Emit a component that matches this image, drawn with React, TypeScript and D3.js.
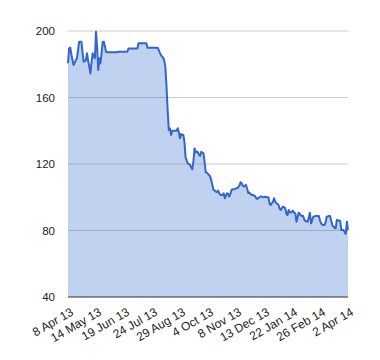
import React from "react"
import * as d3 from "d3"

const WIDTH = 380
const HEIGHT = 360
const MARGIN = { top: 31, right: 32, bottom: 63, left: 68 }

// one value per trading day, 8 Apr 13 .. 2 Apr 14
const prices = [
    180.6, 189.6, 190.0, 186.0, 182.5, 179.5, 181.0, 182.5, 183.6, 189.0,
    193.6, 193.6, 193.6, 187.0, 181.5, 182.0, 182.5, 186.6, 182.0, 178.5,
    174.5, 181.0, 186.6, 185.0, 183.6, 199.6, 190.5, 176.5, 183.6, 180.6,
    187.0, 193.6, 193.6, 190.5, 187.5, 187.2, 187.2, 187.2, 187.2, 187.2,
    187.2, 187.2, 187.2, 187.2, 187.2, 187.5, 187.5, 187.5, 187.5, 187.5,
    187.5, 187.5, 187.5, 187.5, 189.5, 189.5, 189.5, 189.5, 189.5, 189.5,
    189.5, 189.5, 189.5, 192.6, 192.6, 192.6, 192.6, 192.6, 192.6, 192.6,
    192.6, 190.0, 190.0, 190.0, 190.0, 190.0, 190.0, 190.0, 190.0, 190.0,
    190.0, 188.6, 187.0, 185.5, 184.5, 184.0, 182.0, 178.0, 166.0, 152.0,
    140.5, 141.5, 137.5, 140.0, 140.0, 140.0, 140.0, 140.0, 141.5, 139.0,
    135.5, 138.0, 137.5, 137.5, 133.0, 124.0, 122.0, 120.4, 120.0, 119.4,
    118.0, 116.8, 122.0, 129.4, 127.0, 127.5, 127.0, 125.5, 124.8, 127.4,
    126.8, 126.4, 121.0, 115.0, 114.8, 114.0, 113.4, 112.4, 110.0, 107.0,
    104.4, 104.0, 103.4, 103.0, 104.0, 102.4, 101.4, 101.4, 101.4, 102.4,
    99.4, 101.0, 102.4, 102.0, 100.4, 102.0, 104.4, 104.8, 104.8, 105.0,
    105.4, 105.4, 106.0, 107.0, 109.0, 108.5, 107.0, 106.4, 107.0, 107.4,
    105.0, 102.4, 102.8, 102.0, 101.4, 101.5, 101.0, 100.8, 99.5, 99.0,
    99.5, 100.0, 100.4, 100.4, 100.0, 100.0, 100.4, 100.0, 100.0, 100.0,
    96.0, 95.3, 96.5, 97.3, 99.4, 97.5, 96.4, 96.0, 95.3, 93.0,
    92.3, 93.5, 94.3, 94.0, 93.3, 90.0, 89.3, 92.3, 91.0, 90.7,
    91.5, 91.9, 90.5, 90.3, 85.3, 88.0, 90.7, 90.0, 89.0, 88.7,
    88.7, 86.5, 85.7, 85.5, 85.3, 88.0, 90.7, 84.3, 86.0, 88.3,
    88.5, 88.7, 88.7, 88.7, 88.7, 86.0, 84.3, 83.5, 83.3, 83.3,
    85.0, 88.3, 88.5, 88.7, 88.7, 86.0, 83.3, 82.5, 81.5, 81.3,
    86.3, 86.2, 86.0, 85.9, 80.3, 80.3, 80.3, 79.0, 78.0, 85.3,
    80.3,
]

const xLabels = [
    "8 Apr 13", "14 May 13", "19 Jun 13", "24 Jul 13", "29 Aug 13", "4 Oct 13",
    "8 Nov 13", "13 Dec 13", "22 Jan 14", "26 Feb 14", "2 Apr 14",
]
const labelStep = 25
const yTicks = [40, 80, 120, 160, 200]

const FONT = "Arial, 'Liberation Sans', sans-serif"

export default function App() {
    const boundsWidth = WIDTH - MARGIN.left - MARGIN.right
    const boundsHeight = HEIGHT - MARGIN.top - MARGIN.bottom

    const xScale = d3
        .scaleLinear()
        .domain([0, prices.length - 1])
        .range([0, boundsWidth])
    const yScale = d3.scaleLinear().domain([40, 200]).range([boundsHeight, 0])

    const area = d3
        .area<number>()
        .x((_, i) => xScale(i))
        .y0(yScale(40))
        .y1((d) => yScale(d))
    const line = d3
        .line<number>()
        .x((_, i) => xScale(i))
        .y((d) => yScale(d))

    return (
        <div style={{ position: "absolute", left: 0, top: 0 }}>
            <svg width={WIDTH} height={HEIGHT} style={{ display: "block" }}>
                <rect width={WIDTH} height={HEIGHT} fill="#fff" />
                <g transform={`translate(${MARGIN.left},${MARGIN.top})`}>
                    {yTicks.slice(1).map((t) => (
                        <line
                            key={t}
                            x1={0}
                            x2={boundsWidth}
                            y1={yScale(t)}
                            y2={yScale(t)}
                            stroke="#cccccc"
                        />
                    ))}
                    <path d={area(prices) || ""} fill="#3366cc" fillOpacity={0.3} />
                    <path
                        d={line(prices) || ""}
                        fill="none"
                        stroke="#3366cc"
                        strokeWidth={2}
                        strokeLinejoin="round"
                    />
                    <line
                        x1={0}
                        x2={boundsWidth}
                        y1={yScale(40)}
                        y2={yScale(40)}
                        stroke="#333333"
                    />
                    {yTicks.map((t) => (
                        <text
                            key={t}
                            x={-13}
                            y={yScale(t)}
                            dy="0.35em"
                            textAnchor="end"
                            fontFamily={FONT}
                            fontSize={11.5}
                            fill="#222"
                        >
                            {t}
                        </text>
                    ))}
                    {xLabels.map((label, i) => (
                        <text
                            key={label}
                            transform={`translate(${xScale(i * labelStep) + 2},${
                                boundsHeight + 10
                            }) rotate(-30)`}
                            dy="0.71em"
                            textAnchor="end"
                            fontFamily={FONT}
                            fontSize={12}
                            fill="#222"
                        >
                            {label}
                        </text>
                    ))}
                </g>
            </svg>
        </div>
    )
}
